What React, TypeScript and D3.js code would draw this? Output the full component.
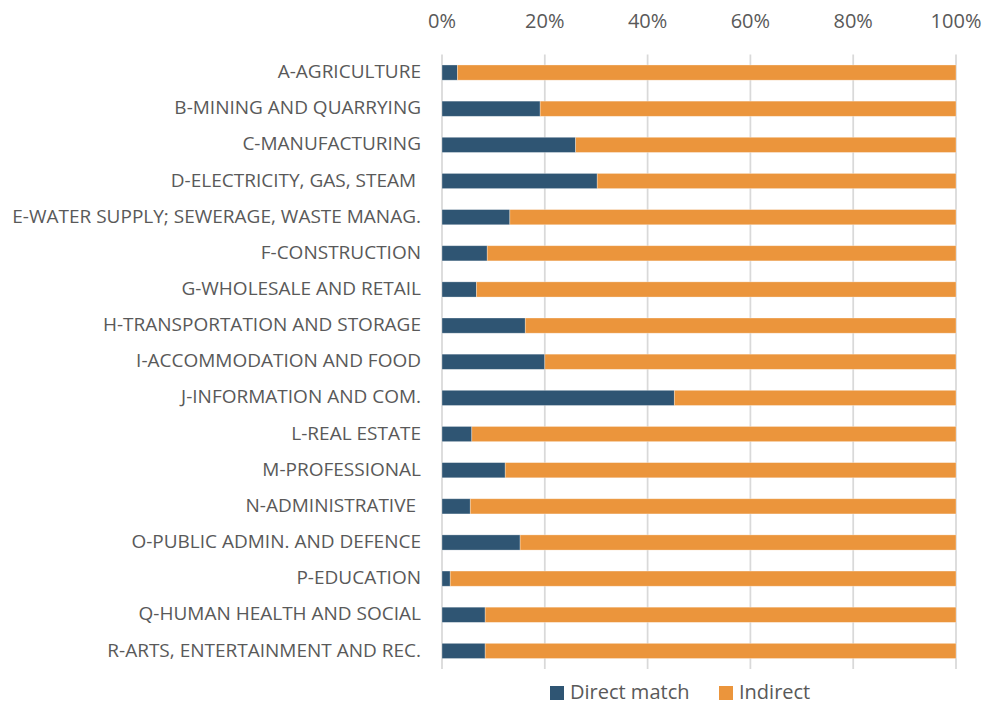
import { useEffect, useRef } from 'react';
import * as d3 from 'd3';

const categories = [
  'A-AGRICULTURE',
  'B-MINING AND QUARRYING',
  'C-MANUFACTURING',
  'D-ELECTRICITY, GAS, STEAM ',
  'E-WATER SUPPLY; SEWERAGE, WASTE MANAG.',
  'F-CONSTRUCTION',
  'G-WHOLESALE AND RETAIL',
  'H-TRANSPORTATION AND STORAGE',
  'I-ACCOMMODATION AND FOOD',
  'J-INFORMATION AND COM.',
  'L-REAL ESTATE',
  'M-PROFESSIONAL',
  'N-ADMINISTRATIVE ',
  'O-PUBLIC ADMIN. AND DEFENCE',
  'P-EDUCATION',
  'Q-HUMAN HEALTH AND SOCIAL',
  'R-ARTS, ENTERTAINMENT AND REC.',
];

// share of direct matches (%)
const directMatch = [3.0, 19.1, 26.0, 30.2, 13.2, 8.8, 6.7, 16.2, 20.0, 45.2, 5.8, 12.3, 5.5, 15.2, 1.6, 8.4, 8.4];
const indirect = directMatch.map(v => 100 - v);

const seriesNames = ['Direct match', 'Indirect'];
const colors = ['#2F5573', '#EB953C'];
const tickValues = [0, 20, 40, 60, 80, 100];

const FONT = '"Open Sans", "Noto Sans", sans-serif';

export default function App() {
  const svgRef = useRef<SVGSVGElement>(null);

  useEffect(() => {
    if (!svgRef.current) return;
    const svg = d3.select(svgRef.current);
    svg.selectAll('*').remove();

    const width = 985;
    const height = 704;
    const margin = { top: 54.5, left: 442, right: 29, bottom: 35 };

    const x = d3.scaleLinear().domain([0, 100]).range([margin.left, width - margin.right]);
    const y = d3.scaleBand<string>()
      .domain(categories)
      .range([margin.top, height - margin.bottom])
      .paddingInner(0.58)
      .paddingOuter(0.29);

    svg.attr('width', width).attr('height', height);

    // gridlines
    svg.append('g')
      .selectAll('line')
      .data(tickValues)
      .join('line')
      .attr('x1', d => x(d))
      .attr('x2', d => x(d))
      .attr('y1', margin.top)
      .attr('y2', height - margin.bottom)
      .attr('stroke', '#d9d9d9')
      .attr('stroke-width', 1.75);

    // top tick labels
    svg.append('g')
      .selectAll('text')
      .data(tickValues)
      .join('text')
      .attr('x', d => x(d))
      .attr('y', 23)
      .attr('text-anchor', 'middle')
      .attr('dominant-baseline', 'middle')
      .attr('fill', '#595959')
      .attr('font-family', FONT)
      .attr('font-size', '20px')
      .text(d => d + '%');

    const stacked = categories.map((c, i) => ({ c, vals: [directMatch[i], indirect[i]] }));

    // bars
    stacked.forEach(row => {
      let acc = 0;
      row.vals.forEach((v, s) => {
        svg.append('rect')
          .attr('x', x(acc))
          .attr('y', y(row.c)!)
          .attr('width', x(acc + v) - x(acc))
          .attr('height', y.bandwidth())
          .attr('fill', colors[s])
          .attr('stroke', '#ffffff')
          .attr('stroke-opacity', 0.4)
          .attr('stroke-width', 0.75);
        acc += v;
      });
    });

    // category labels
    svg.append('g')
      .selectAll('text')
      .data(categories)
      .join('text')
      .attr('x', 421)
      .attr('y', d => y(d)! + y.bandwidth() / 2 + 0.5)
      .attr('text-anchor', 'end')
      .attr('dominant-baseline', 'middle')
      .attr('fill', '#595959')
      .attr('font-family', FONT)
      .attr('font-size', '19px')
      .style('white-space', 'pre')
      .text(d => d);

    // legend
    const legendX = [550, 719];
    const legend = svg.append('g');
    seriesNames.forEach((name, i) => {
      legend.append('rect')
        .attr('x', legendX[i])
        .attr('y', 686)
        .attr('width', 14)
        .attr('height', 14)
        .attr('fill', colors[i]);
      legend.append('text')
        .attr('x', legendX[i] + 20)
        .attr('y', 699)
        .attr('fill', '#595959')
        .attr('font-family', FONT)
        .attr('font-size', '20px')
        .text(name);
    });
  }, []);

  return (
    <div style={{ position: 'fixed', top: 0, left: 0, width: 985, height: 704, overflow: 'hidden', background: '#fff' }}>
      <svg ref={svgRef} style={{ display: 'block' }} />
    </div>
  );
}
